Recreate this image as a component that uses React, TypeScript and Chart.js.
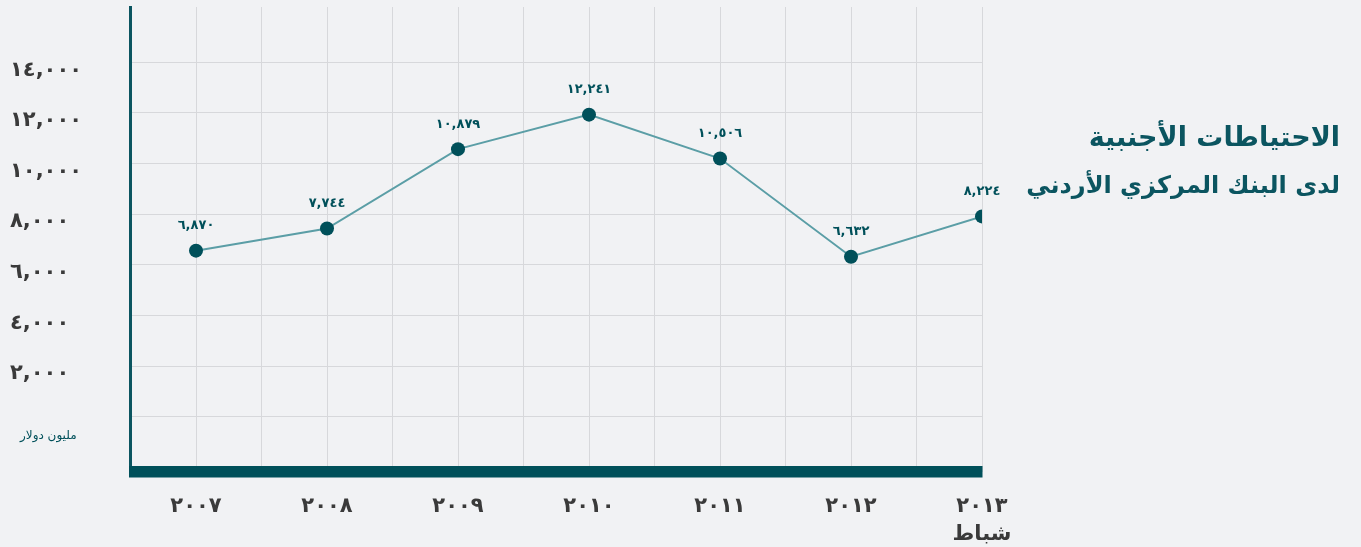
import React, { useEffect, useRef } from "react";
import { Chart, registerables } from "chart.js";

Chart.register(...registerables);

// ---- data ----
const years = ["2007", "2008", "2009", "2010", "2011", "2012", "2013"];
const lastYearNote = "شباط";
const reserves = [6870, 7744, 10879, 12241, 10506, 6632, 8224];
const yTickValues = [0, 2000, 4000, 6000, 8000, 10000, 12000, 14000];
const titleLines = ["الاحتياطات الأجنبية", "لدى البنك المركزي الأردني"];
const unitLabel = "مليون دولار";

// the reference draws its horizontal grid lines a little above the labelled values
const GRID_SHIFT = 316;

const AR_DIGITS = "٠١٢٣٤٥٦٧٨٩";
const toArabic = (s: string) => s.replace(/\d/g, (d) => AR_DIGITS[+d]);
const fmt = (v: number) => toArabic(Math.round(v).toString().replace(/\B(?=(\d{3})+(?!\d))/g, ","));

const TEAL = "#00505a";
const LINE = "#5b9ea6";
const GRID = "#d7d8db";
const TEXT = "#3a3a3a";
const BG = "#f1f2f4";
const FONT = "'DejaVu Sans', 'Noto Sans', sans-serif";

const bottomBar = {
  id: "bottomBar",
  beforeDatasetsDraw(chart: any) {
    const { ctx, chartArea } = chart;
    ctx.save();
    ctx.fillStyle = TEAL;
    ctx.fillRect(chartArea.left - 1.5, chartArea.bottom - 5.5, chartArea.right - chartArea.left + 2, 11.5);
    ctx.restore();
  },
};

const valueLabels = {
  id: "valueLabels",
  afterDatasetsDraw(chart: any) {
    const { ctx } = chart;
    const meta = chart.getDatasetMeta(0);
    ctx.save();
    ctx.fillStyle = TEAL;
    ctx.font = `bold 13px ${FONT}`;
    ctx.textAlign = "center";
    ctx.textBaseline = "middle";
    meta.data.forEach((pt: any, i: number) => {
      ctx.fillText(fmt(reserves[i]), pt.x, pt.y - 25);
    });
    ctx.restore();
  },
};

export default function App() {
  const ref = useRef<HTMLCanvasElement>(null);

  useEffect(() => {
    if (!ref.current) return;
    const chart = new Chart(ref.current, {
      type: "line",
      data: {
        datasets: [
          {
            data: reserves.map((v, i) => ({ x: i, y: v })),
            borderColor: LINE,
            borderWidth: 2,
            pointRadius: 7,
            pointHoverRadius: 7,
            pointBackgroundColor: TEAL,
            pointBorderWidth: 0,
            tension: 0,
          },
        ],
      },
      options: {
        animation: false,
        responsive: true,
        maintainAspectRatio: false,
        layout: { padding: { left: 10, top: 7, right: 379, bottom: 0 } },
        plugins: { legend: { display: false }, tooltip: { enabled: false } },
        scales: {
          x: {
            type: "linear",
            min: -0.5,
            max: years.length - 1,
            afterBuildTicks: (s: any) => {
              const t = [];
              for (let v = -0.5; v <= years.length - 1 + 1e-9; v += 0.5) t.push({ value: v });
              s.ticks = t;
            },
            afterFit: (s: any) => {
              s.height = 75.5;
              s.paddingLeft = 0;
            },
            grid: { color: GRID, lineWidth: 1, drawTicks: false },
            border: { display: false },
            ticks: {
              autoSkip: false,
              maxRotation: 0,
              padding: 21,
              color: TEXT,
              font: { family: FONT, size: 21, weight: "bold", lineHeight: 1.35 },
              callback: (v: any) => {
                if (!Number.isInteger(v)) return "";
                const lbl = toArabic(years[v]);
                return v === years.length - 1 ? [lbl, lastYearNote] : lbl;
              },
            },
          },
          y: {
            min: -1848,
            max: 16490,
            afterBuildTicks: (s: any) => {
              s.ticks = yTickValues.map((v) => ({ value: v + GRID_SHIFT }));
            },
            afterFit: (s: any) => {
              s.width = 120.5;
              s.paddingTop = 0;
              s.paddingBottom = 0;
            },
            grid: { color: GRID, lineWidth: 1, drawTicks: false },
            border: { display: true, color: "#0b5560", width: 3 },
            ticks: {
              crossAlign: "far",
              labelOffset: 8,
              color: TEXT,
              font: { family: FONT, size: 21, weight: "bold" },
              callback: (v: any) => {
                const val = v - GRID_SHIFT;
                return val === 0 ? "" : fmt(val);
              },
            },
          },
        },
      },
      plugins: [bottomBar, valueLabels],
    } as any);
    return () => chart.destroy();
  }, []);

  return (
    <div style={{ position: "absolute", left: 0, top: 0, width: 1361, height: 547, background: BG, overflow: "hidden" }}>
      <canvas ref={ref} />
      <div
        dir="rtl"
        style={{
          position: "absolute",
          right: 21,
          top: 113,
          textAlign: "right",
          color: "#0b5560",
          fontFamily: FONT,
          fontWeight: "bold",
          lineHeight: "48px",
          whiteSpace: "nowrap",
        }}
      >
        <div style={{ fontSize: 27 }}>{titleLines[0]}</div>
        <div style={{ fontSize: 24 }}>{titleLines[1]}</div>
      </div>
      <div
        dir="rtl"
        style={{
          position: "absolute",
          left: 20,
          top: 428,
          color: TEAL,
          fontFamily: FONT,
          fontSize: 12,
          whiteSpace: "nowrap",
        }}
      >
        {unitLabel}
      </div>
    </div>
  );
}
